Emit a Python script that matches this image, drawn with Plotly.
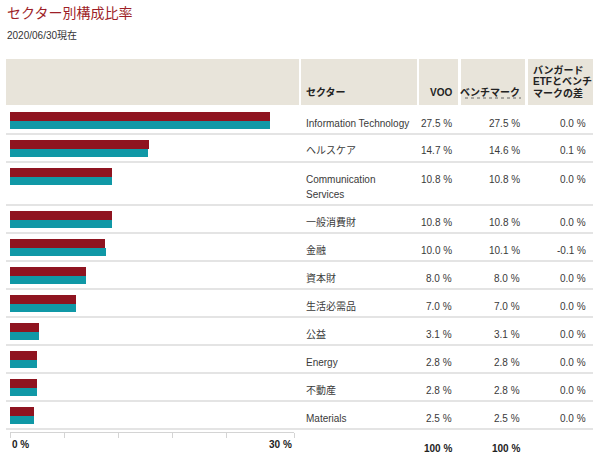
import plotly.graph_objects as go

# ---- data ----
sectors = ["Information Technology", "ヘルスケア", "Communication<br>Services", "一般消費財",
           "金融", "資本財", "生活必需品", "公益", "Energy", "不動産", "Materials"]
voo = [27.5, 14.7, 10.8, 10.8, 10.0, 8.0, 7.0, 3.1, 2.8, 2.8, 2.5]
bench = [27.5, 14.6, 10.8, 10.8, 10.1, 8.0, 7.0, 3.1, 2.8, 2.8, 2.5]
diff = [0.0, 0.1, 0.0, 0.0, -0.1, 0.0, 0.0, 0.0, 0.0, 0.0, 0.0]
totals = ["100 %", "100 %"]
headers = ["セクター", "VOO", "ベンチマーク", "バンガード", "ETFとベンチ", "マークの差"]
title = "セクター別構成比率"
subtitle = "2020/06/30現在"
tick_vals = [0, 5.8, 11.5, 17.2, 22.9, 30]
axis_labels = ["0 %", "30 %"]

W, H = 600, 458
FONT = "Liberation Sans, Arial, Noto Sans CJK JP, sans-serif"
RED = "#8f1420"
TEAL = "#1098a6"
HDR = "#e8e4da"
SEP = "#e4e4e4"
TXT = "#3a3a3a"

# row layout (two-line labels get taller rows)
tops = []
t = 106
for s in sectors:
    tops.append(t)
    t += 43 if "<br>" in s else 28
bottom = t


def px(x):
    return x / W


def py(y):
    return 1 - y / H


fig = go.Figure()
fig.add_trace(go.Bar(x=voo, y=[tp + 10.7 for tp in tops], orientation="h", width=8.5,
                     marker=dict(color=RED, line=dict(width=0)), hoverinfo="x", name="VOO"))
fig.add_trace(go.Bar(x=bench, y=[tp + 19.2 for tp in tops], orientation="h", width=8.5,
                     marker=dict(color=TEAL, line=dict(width=0)), hoverinfo="x", name="ベンチマーク"))

shapes = []
# header cells
for x0, x1 in [(6, 299), (301, 417), (419, 458), (461, 525), (528, 593)]:
    shapes.append(dict(type="rect", xref="paper", yref="paper", x0=px(x0), x1=px(x1),
                       y0=py(105), y1=py(59), fillcolor=HDR, line=dict(width=0), layer="below"))
# row separators
for yb in tops[1:] + [bottom]:
    shapes.append(dict(type="line", xref="paper", yref="paper", x0=px(6), x1=px(593),
                       y0=py(yb), y1=py(yb), line=dict(color=SEP, width=2), layer="below"))
# dotted underline under benchmark header
shapes.append(dict(type="line", xref="paper", yref="paper", x0=px(465), x1=px(521),
                   y0=py(98), y1=py(98), line=dict(color="#666", width=1, dash="dot")))

ann = []


def A(text, x, y, xa="left", size=10, color=TXT, bold=False):
    if bold:
        text = "<b>" + text + "</b>"
    ann.append(dict(text=text, x=px(x), y=py(y), xref="paper", yref="paper", xanchor=xa,
                    yanchor="middle", showarrow=False, align=xa,
                    font=dict(size=size, color=color, family=FONT)))


A(title, 5, 13, size=14, color="#9e1f28")
A(subtitle, 5, 35, size=10, color="#333")

# headers
A(headers[0], 304, 92, bold=True, color="#222")
A(headers[1], 454, 92, xa="right", bold=True, color="#222")
A(headers[2], 522, 92, xa="right", bold=True, color="#222")
A(headers[3], 531, 70, bold=True, color="#222")
A(headers[4], 531, 81.5, bold=True, color="#222")
A(headers[5], 531, 93, bold=True, color="#222")

for s, v, b, d, tp in zip(sectors, voo, bench, diff, tops):
    yc = tp + 17
    if "<br>" in s:
        l1, l2 = s.split("<br>")
        A(l1, 304, yc)
        A(l2, 304, yc + 15)
    else:
        A(s, 304, yc)
    A(f"{v:.1f} %", 454, yc, xa="right")
    A(f"{b:.1f} %", 522, yc, xa="right")
    A(f"{d:.1f} %", 588, yc, xa="right")

A(totals[0], 454, 448, xa="right", bold=True, color="#222")
A(totals[1], 522, 448, xa="right", bold=True, color="#222")
A(axis_labels[0], 10, 444, bold=True, color="#222")
A(axis_labels[1], 294, 444, xa="right", bold=True, color="#222")

fig.update_layout(
    width=W, height=H, margin=dict(l=0, r=0, t=0, b=0),
    paper_bgcolor="white", plot_bgcolor="rgba(0,0,0,0)",
    showlegend=False, barmode="overlay", bargap=0,
    shapes=shapes, annotations=ann,
    font=dict(family=FONT),
    xaxis=dict(domain=[px(10), px(294)], range=[0, 30], showline=True, linecolor="#d4d4d4",
               linewidth=1, ticks="outside", ticklen=5, tickcolor="#d4d4d4",
               tickvals=tick_vals, showticklabels=False, showgrid=False, zeroline=False,
               fixedrange=True),
    yaxis=dict(domain=[1 - 432 / H, 1], range=[432, 0], visible=False, fixedrange=True),
)

fig.write_html("out.html", config={"displayModeBar": False},
               post_script="document.body.style.margin='0';document.body.style.overflow='hidden';")
